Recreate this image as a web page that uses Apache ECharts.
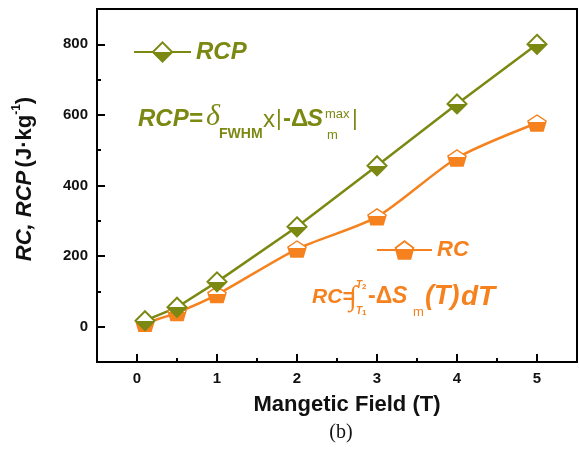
<!DOCTYPE html>
<html>
<head>
<meta charset="utf-8">
<script src="https://cdn.jsdelivr.net/npm/echarts@6/dist/echarts.min.js"></script>
<style>html,body{margin:0;padding:0;background:#fff}#c{width:580px;height:449px}</style>
</head>
<body>
<div id="c"></div>
<script>
// ---- data ----
const fieldT = [0.1, 0.5, 1, 2, 3, 4, 5];
const rcpValues = [17, 55, 127, 283, 456, 631, 800];
const rcValues = [10, 40, 91, 220, 311, 478, 577];
const xTickLabels = ['0', '1', '2', '3', '4', '5'];
const yTickCats = ['-100', '0', '100', '200', '300', '400', '500', '600', '700', '800', '900'];
const yLabelShown = ['0', '200', '400', '600', '800'];

const OLIVE = '#7b8913';
const ORANGE = '#f5821f';
const SANS = 'Liberation Sans, Arial, sans-serif';
const SERIF = 'Liberation Serif, Times New Roman, serif';

function halfFill(c, stop) {
  return {type: 'linear', x: 0, y: 0, x2: 0, y2: 1, colorStops: [
    {offset: 0, color: '#ffffff'}, {offset: stop, color: '#ffffff'},
    {offset: stop, color: c}, {offset: 1, color: c}]};
}
const pentagon = 'path://M9,0L18,6L15,16L3,16L0,6Z';

const chart = echarts.init(document.getElementById('c'), null, {renderer: 'canvas'});

function txt(x, y, text, font, fill, align) {
  return {type: 'text', x: x, y: y, silent: true,
    style: {text: text, font: font, fill: fill, align: align || 'left', verticalAlign: 'middle'}};
}

const graphics = [
  // RCP formula
  txt(138, 119, 'RCP=', 'italic bold 24px ' + SANS, OLIVE),
  txt(206, 117, 'δ', 'italic 30px ' + SERIF, OLIVE),
  txt(219, 134, 'FWHM', 'bold 14px ' + SANS, OLIVE),
  txt(263, 120, 'x', '24px ' + SANS, OLIVE),
  txt(276, 119, '|', '22px ' + SANS, OLIVE),
  txt(283, 119, '-Δ', 'bold 24px ' + SANS, OLIVE),
  txt(307, 119, 'S', 'italic bold 24px ' + SANS, OLIVE),
  txt(325, 114, 'max', '13px ' + SANS, OLIVE),
  txt(327, 135, 'm', '13px ' + SANS, OLIVE),
  txt(352, 119, '|', '22px ' + SANS, OLIVE),
  // RC formula
  txt(312, 297, 'RC=', 'italic bold 21px ' + SANS, ORANGE),
  txt(349, 298, '∫', '28px ' + SERIF, ORANGE),
  txt(356, 285, 'T', 'italic bold 10px ' + SANS, ORANGE),
  txt(362, 287, '2', 'bold 8px ' + SANS, ORANGE),
  txt(356, 311, 'T', 'italic bold 10px ' + SANS, ORANGE),
  txt(362, 313, '1', 'bold 8px ' + SANS, ORANGE),
  txt(368, 297, '-Δ', 'bold 23px ' + SANS, ORANGE),
  txt(392, 297, 'S', 'italic bold 23px ' + SANS, ORANGE),
  txt(413, 312, 'm', '13px ' + SANS, ORANGE),
  txt(425, 297, '(T)', 'italic bold 27px ' + SANS, ORANGE),
  txt(461, 297, 'dT', 'italic bold 28px ' + SANS, ORANGE),
  // axis titles & caption
  {type: 'text', x: 25, y: 179, rotation: Math.PI / 2, silent: true,
    style: {text: '{i|RC, RCP} {n|(J·kg}{s|-1}{n|)}', align: 'center', verticalAlign: 'middle', fill: '#111',
      rich: {
        i: {font: 'italic bold 22px ' + SANS, fill: '#111', lineHeight: 28},
        n: {font: 'bold 22px ' + SANS, fill: '#111', lineHeight: 28},
        s: {font: 'bold 12px ' + SANS, fill: '#111', lineHeight: 28, verticalAlign: 'top', padding: [0, 0, 12, 0]}
      }}},
  txt(347, 405, 'Mangetic Field (T)', 'bold 22px ' + SANS, '#111', 'center'),
  txt(341, 433, '(b)', '20px ' + SERIF, '#111', 'center')
];

chart.setOption({
  animation: false,
  backgroundColor: '#fff',
  grid: {left: 97, right: 3, top: 9, bottom: 87, show: true, borderColor: '#000', borderWidth: 2, backgroundColor: 'transparent'},
  legend: [
    {data: ['RCP'], left: 133, top: 40, padding: 0, itemWidth: 57, itemHeight: 24, itemGap: 5,
      textStyle: {color: OLIVE, fontStyle: 'italic', fontWeight: 'bold', fontSize: 24, fontFamily: SANS}},
    {data: ['RC'], left: 376, top: 239, padding: 0, itemWidth: 55, itemHeight: 22, itemGap: 5,
      textStyle: {color: ORANGE, fontStyle: 'italic', fontWeight: 'bold', fontSize: 22, fontFamily: SANS}}
  ],
  xAxis: [
    {type: 'value', min: -0.5, max: 5.5, interval: 0.5,
      axisLine: {show: true, onZero: false, lineStyle: {color: '#000', width: 2}},
      axisTick: {show: true, inside: true, length: 4, lineStyle: {color: '#000', width: 2}},
      axisLabel: {show: false}, splitLine: {show: false}},
    {type: 'category', data: xTickLabels, position: 'bottom', boundaryGap: true,
      axisLine: {show: false, onZero: false},
      axisTick: {show: true, inside: true, alignWithLabel: true, length: 8, lineStyle: {color: '#000', width: 2}},
      axisLabel: {show: true, margin: 9, color: '#111', fontWeight: 'bold', fontSize: 15, fontFamily: SANS},
      splitLine: {show: false}}
  ],
  yAxis: [
    {type: 'value', min: -100, max: 900, interval: 100,
      axisLine: {show: true, onZero: false, lineStyle: {color: '#000', width: 2}},
      axisTick: {show: true, inside: true, length: 4, lineStyle: {color: '#000', width: 2}},
      axisLabel: {show: false}, splitLine: {show: false}},
    {type: 'category', data: yTickCats, position: 'left', boundaryGap: false,
      axisLine: {show: false, onZero: false},
      axisTick: {show: true, inside: true, length: 8, lineStyle: {color: '#000', width: 2},
        interval: function (i, v) { return yLabelShown.indexOf(v) >= 0; }},
      axisLabel: {show: true, margin: 9, color: '#111', fontWeight: 'bold', fontSize: 15, fontFamily: SANS,
        interval: function (i, v) { return yLabelShown.indexOf(v) >= 0; }},
      splitLine: {show: false}}
  ],
  series: [
    {name: 'RC', type: 'line', xAxisIndex: 0, yAxisIndex: 0, smooth: 0.25,
      data: fieldT.map((x, i) => [x, rcValues[i]]),
      symbol: pentagon, symbolSize: [18, 16],
      lineStyle: {color: ORANGE, width: 2.5},
      itemStyle: {color: halfFill(ORANGE, 0.45), borderColor: ORANGE, borderWidth: 1.5}},
    {name: 'RCP', type: 'line', xAxisIndex: 0, yAxisIndex: 0,
      data: fieldT.map((x, i) => [x, rcpValues[i]]),
      symbol: 'diamond', symbolSize: [19, 19],
      lineStyle: {color: OLIVE, width: 2.5},
      itemStyle: {color: halfFill(OLIVE, 0.5), borderColor: OLIVE, borderWidth: 2}}
  ],
  graphic: graphics
});
</script>
</body>
</html>
